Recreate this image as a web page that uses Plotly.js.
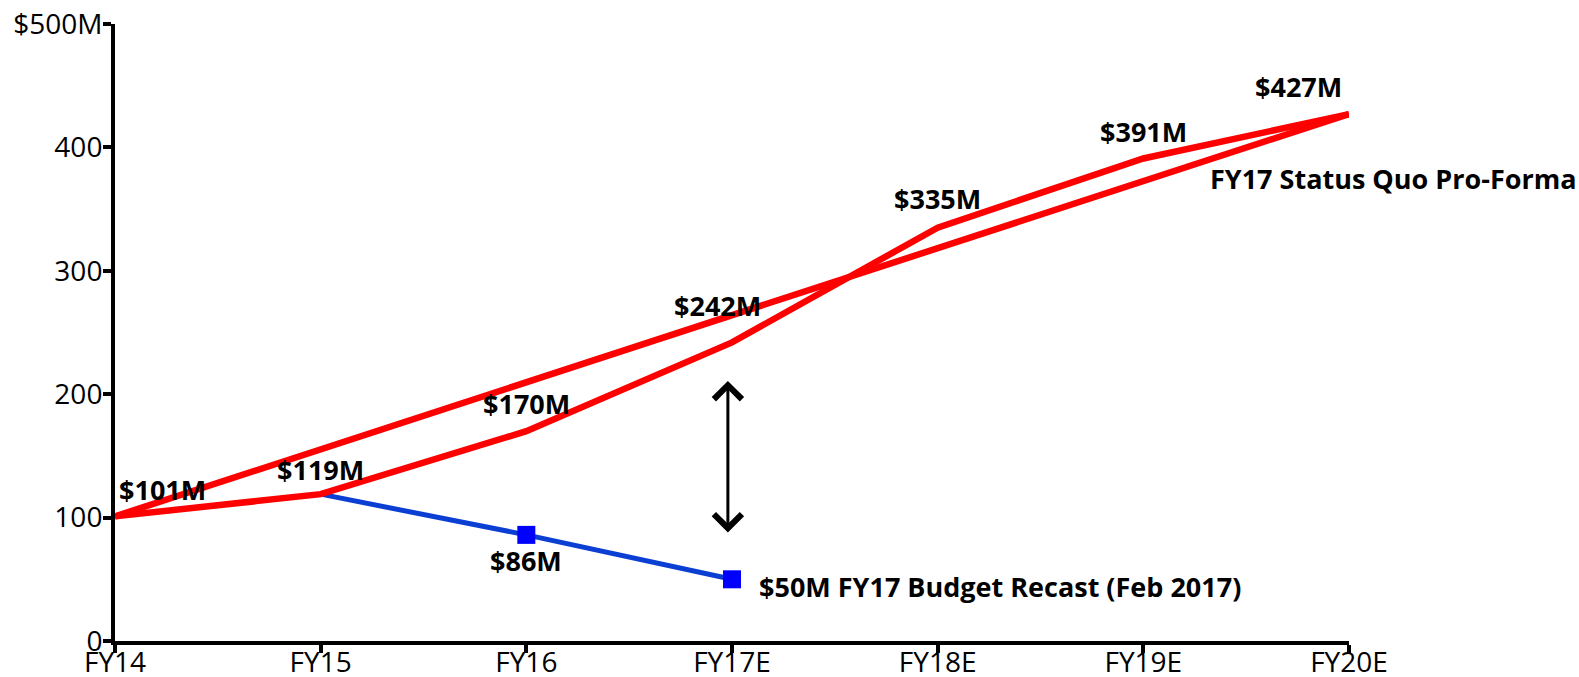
<!DOCTYPE html>
<html>
<head>
<meta charset="utf-8">
<script src="https://cdn.plot.ly/plotly-3.0.1.min.js"></script>
<style>html,body{margin:0;padding:0;background:#fff;}#chart{width:1579px;height:677px;}</style>
</head>
<body>
<div id="chart"></div>
<script>
// ---- data ----
const categories = ['FY14', 'FY15', 'FY16', 'FY17E', 'FY18E', 'FY19E', 'FY20E'];
const proFormaValues = [101, 119, 170, 242, 335, 391, 427];      // FY17 Status Quo Pro-Forma ($M)
const recastCategories = ['FY15', 'FY16', 'FY17E'];
const recastValues = [119, 86, 50];                               // FY17 Budget Recast (Feb 2017) ($M)
const yTickValues = [0, 100, 200, 300, 400, 500];
const yTickLabels = ['0', '100', '200', '300', '400', '$500M'];
const proFormaName = 'FY17 Status Quo Pro-Forma';
const recastName = 'FY17 Budget Recast (Feb 2017)';
// ---------------

const FONT = 'Open Sans, Lato, sans-serif';
const red = '#ff0000';
const blueLine = '#0b3fd4';
const blueMarker = '#0000ff';

// straight line from first to last pro-forma value
const trendX = [categories[0], categories[categories.length - 1]];
const trendY = [proFormaValues[0], proFormaValues[proFormaValues.length - 1]];

const traces = [
  {
    x: recastCategories, y: recastValues, type: 'scatter', mode: 'lines+markers',
    line: {color: blueLine, width: 5},
    marker: {symbol: 'square', color: blueMarker, opacity: 1, line: {width: 0},
             size: recastValues.map((v, i) => i === 0 ? 0 : 18)},
    hoverinfo: 'skip', cliponaxis: false
  },
  {
    x: trendX, y: trendY, type: 'scatter', mode: 'lines',
    line: {color: red, width: 6.5}, hoverinfo: 'skip', cliponaxis: false
  },
  {
    x: categories, y: proFormaValues, type: 'scatter', mode: 'lines',
    line: {color: red, width: 6.5}, hoverinfo: 'skip', cliponaxis: false
  }
];

// label offsets in pixels relative to each point (layout only)
const proShift = [[47, 27, 'center'], [0, 25, 'center'], [0, 28, 'center'], [-15, 37, 'center'],
                  [0, 29, 'center'], [0, 27, 'center'], [-51, 28, 'center']];
const recShift = [null, [0, -26, 'center'], [25, -7, 'left']];

const labelFont = {family: FONT, size: 27, color: '#000', weight: 'bold'};
const annotations = [];
categories.forEach((c, i) => {
  annotations.push({
    x: c, y: proFormaValues[i], xref: 'x', yref: 'y', showarrow: false,
    text: '<b>$' + proFormaValues[i] + 'M</b>', font: labelFont,
    xanchor: proShift[i][2], yanchor: 'middle', xshift: proShift[i][0], yshift: proShift[i][1]
  });
});
recastCategories.forEach((c, i) => {
  if (!recShift[i]) return;
  const last = i === recastCategories.length - 1;
  annotations.push({
    x: c, y: recastValues[i], xref: 'x', yref: 'y', showarrow: false,
    text: '<b>$' + recastValues[i] + 'M' + (last ? ' ' + recastName : '') + '</b>', font: labelFont,
    xanchor: recShift[i][2], yanchor: 'middle', xshift: recShift[i][0], yshift: recShift[i][1]
  });
});
// series name for pro-forma
annotations.push({
  x: categories[categories.length - 1], y: proFormaValues[proFormaValues.length - 1], xref: 'x', yref: 'y',
  showarrow: false, text: '<b>' + proFormaName + '</b>', font: labelFont,
  xanchor: 'left', yanchor: 'middle', xshift: -141, yshift: -64
});
// double-headed gap arrow at FY17E
annotations.push({
  x: 2.98, y: 88, xref: 'x', yref: 'y', ax: 2.98, ay: 212, axref: 'x', ayref: 'y',
  showarrow: true, arrowside: 'end+start', arrowhead: 4, arrowsize: 1.8, arrowwidth: 3,
  arrowcolor: '#000', text: ''
});

const layout = {
  width: 1579, height: 677,
  margin: {l: 115, r: 230, t: 24, b: 36},
  paper_bgcolor: '#fff', plot_bgcolor: '#fff',
  showlegend: false,
  font: {family: FONT, size: 26, color: '#000'},
  xaxis: {
    type: 'category', categoryarray: categories, categoryorder: 'array',
    range: [0, categories.length - 1],
    showgrid: false, zeroline: false,
    showline: true, linecolor: '#000', linewidth: 4,
    ticks: 'outside', ticklen: 8, tickwidth: 4, tickcolor: '#000',
    ticklabelstandoff: -15,
    tickfont: {family: FONT, size: 28, color: '#000'}
  },
  yaxis: {
    range: [0, 500], showgrid: false, zeroline: false,
    showline: true, linecolor: '#000', linewidth: 4,
    ticks: 'outside', ticklen: 8, tickwidth: 4, tickcolor: '#000',
    ticklabelstandoff: -5,
    tickvals: yTickValues, ticktext: yTickLabels,
    tickfont: {family: FONT, size: 28, color: '#000'}
  },
  annotations: annotations
};

Plotly.newPlot('chart', traces, layout, {staticPlot: true});
</script>
</body>
</html>
